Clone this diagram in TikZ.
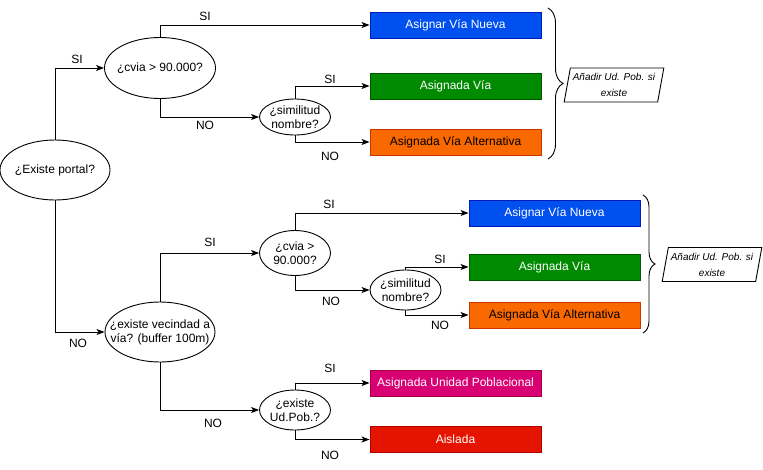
\documentclass[tikz,border=0pt]{standalone}
\usepackage{fontspec}
\setmainfont{Liberation Sans}
\usetikzlibrary{shapes.geometric,arrows.meta,decorations.pathreplacing}
\definecolor{bluef}{HTML}{0050EF}\definecolor{blued}{HTML}{001DBC}
\definecolor{greenf}{HTML}{008A00}\definecolor{greend}{HTML}{005700}
\definecolor{orangef}{HTML}{FA6800}\definecolor{oranged}{HTML}{C73500}
\definecolor{magf}{HTML}{D80073}\definecolor{magd}{HTML}{A50040}
\definecolor{redf}{HTML}{E51400}\definecolor{redd}{HTML}{B20000}
\begin{document}
\begin{tikzpicture}[x=1pt,y=-1pt,
  every node/.style={font=\fontsize{12}{14}\selectfont},
  dec/.style={ellipse,draw,line width=0.9pt,inner sep=0pt,
     label={[inner sep=0pt,align=center]center:#1}},
  res/.style={rectangle,draw,line width=0.9pt,minimum width=171,minimum height=26,inner sep=0pt},
  resw/.style={res,text=white},
  arr/.style={draw,line width=0.9pt,-{Stealth[length=8pt,width=6pt,inset=2pt]}},
  lbl/.style={inner sep=0pt},
  note/.style={trapezium,trapezium stretches=true,trapezium left angle=76,trapezium right angle=104,draw,line width=0.9pt,minimum width=100,minimum height=34,inner sep=0pt,align=center,font=\fontsize{10}{16}\selectfont\itshape},
  brc/.style={draw,line width=0.9pt,decorate,decoration={brace,amplitude=#1}}
]
\useasboundingbox (0,0) rectangle (763,469);

% decisions
\node[dec={¿Existe portal?},minimum width=110,minimum height=60] (portal) at (55,170) {};
\node[dec={¿cvia > 90.000?},minimum width=111,minimum height=61] (cvia1) at (160,68) {};
\node[dec={¿similitud\\nombre?},minimum width=71,minimum height=36] (sim1) at (295,117) {};
\node[dec={¿existe vecindad a\\vía? (buffer 100m)},minimum width=110,minimum height=60] (vec) at (160,332) {};
\node[dec={¿cvia >\\90.000?},minimum width=71,minimum height=45] (cvia2) at (295,253) {};
\node[dec={¿similitud\\nombre?},minimum width=71,minimum height=40] (sim2) at (405.5,290) {};
\node[dec={¿existe\\Ud.Pob.?},minimum width=71,minimum height=40] (pob) at (295,410) {};

% results
\node[resw,fill=bluef,draw=blued] (b1) at (455.5,25) {Asignar Vía Nueva};
\node[resw,fill=greenf,draw=greend] (b2) at (455.5,86) {Asignada Vía};
\node[res,fill=orangef,draw=oranged] (b3) at (455.5,142) {Asignada Vía Alternativa};
\node[resw,fill=bluef,draw=blued] (b4) at (554.5,213) {Asignar Vía Nueva};
\node[resw,fill=greenf,draw=greend] (b5) at (554.5,267) {Asignada Vía};
\node[res,fill=orangef,draw=oranged] (b6) at (554.5,315) {Asignada Vía Alternativa};
\node[resw,fill=magf,draw=magd] (b7) at (455.5,383) {Asignada Unidad Poblacional};
\node[resw,fill=redf,draw=redd] (b8) at (455.5,439.5) {Aislada};

% notes
\node[note] (n1) at (614,85) {Añadir Ud. Pob. si\\existe};
\node[note] (n2) at (712,264.5) {Añadir Ud. Pob. si\\existe};

% braces
\coordinate (br1a) at (548,8);
\coordinate (br1b) at (548,159);
\coordinate (br2a) at (643,195);
\coordinate (br2b) at (643,333);
\draw[brc=15] (br1a) -- (br1b);
\draw[brc=12] (br2a) -- (br2b);

% connectors
\draw[arr] (portal.north) |- (cvia1.west);
\draw[arr] (cvia1.north) |- (b1.west);
\draw[arr] (cvia1.south) |- (sim1.west);
\draw[arr] (sim1.north) |- (b2.west);
\draw[arr] (sim1.south) |- (b3.west);
\draw[arr] (portal.south) |- (vec.west);
\draw[arr] (vec.north) |- (cvia2.west);
\draw[arr] (cvia2.north) |- (b4.west);
\draw[arr] (cvia2.south) |- (sim2.west);
\draw[arr] (sim2.north) |- (b5.west);
\draw[arr] (sim2.south) |- (b6.west);
\draw[arr] (vec.south) |- (pob.west);
\draw[arr] (pob.north) |- (b7.west);
\draw[arr] (pob.south) |- (b8.west);

% labels
\node[lbl] (l1) at (77,59) {SI};
\node[lbl] (l2) at (205,16) {SI};
\node[lbl] (l3) at (205,125) {NO};
\node[lbl] (l4) at (330,79) {SI};
\node[lbl] (l5) at (330,156) {NO};
\node[lbl] (l6) at (78,343) {NO};
\node[lbl] (l7) at (210,242) {SI};
\node[lbl] (l8) at (329,204) {SI};
\node[lbl] (l9) at (331,301) {NO};
\node[lbl] (l10) at (440,259) {SI};
\node[lbl] (l11) at (440,325) {NO};
\node[lbl] (l12) at (213,423) {NO};
\node[lbl] (l13) at (330,368) {SI};
\node[lbl] (l14) at (330,455) {NO};
\end{tikzpicture}
\end{document}
